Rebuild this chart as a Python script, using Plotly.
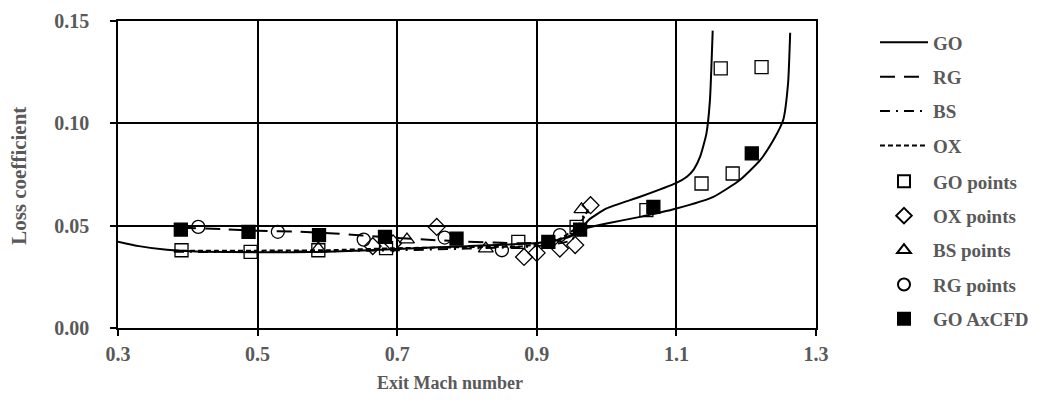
import plotly.graph_objects as go

# Model curves (exit Mach number vs. loss coefficient)
go_x = [0.30, 0.33, 0.37, 0.42, 0.50, 0.60, 0.70, 0.80, 0.90, 0.93, 0.95, 0.962, 0.975, 1.00, 1.048,
        1.10, 1.115, 1.125, 1.134, 1.143, 1.148, 1.152]
go_y = [0.0422, 0.0400, 0.0382, 0.0373, 0.0370, 0.0372, 0.0386, 0.0400, 0.0415, 0.0430, 0.0455, 0.0478,
        0.0530, 0.0584, 0.0641, 0.0709, 0.0739, 0.0775, 0.0837, 0.0950, 0.1110, 0.1453]

go2_x = [0.962, 0.9715, 1.00, 1.048, 1.10, 1.153, 1.191, 1.220, 1.239, 1.253, 1.260, 1.263]
go2_y = [0.0478, 0.0489, 0.0511, 0.0543, 0.0584, 0.0641, 0.0723, 0.0820, 0.0918, 0.1016, 0.1196, 0.1443]

rg_x = [0.39, 0.45, 0.50, 0.56, 0.61, 0.65, 0.70, 0.75, 0.80, 0.85, 0.88, 0.92, 0.95, 0.968]
rg_y = [0.0490, 0.0483, 0.0475, 0.0470, 0.0462, 0.0452, 0.0440, 0.0430, 0.0422, 0.0416, 0.0414, 0.0420,
        0.0450, 0.0500]

bs_x = [0.38, 0.50, 0.60, 0.70, 0.80, 0.90, 0.95, 0.968]
bs_y = [0.0372, 0.0372, 0.0375, 0.0380, 0.0388, 0.0400, 0.0430, 0.0560]

ox_x = [0.38, 0.50, 0.60, 0.70, 0.80, 0.88, 0.93, 0.96, 0.975]
ox_y = [0.0378, 0.0378, 0.0380, 0.0390, 0.0395, 0.0400, 0.0430, 0.0500, 0.0590]

# Measured / computed points
go_pts_x = [0.391, 0.490, 0.587, 0.684, 0.8735, 0.957, 1.057, 1.136, 1.1635, 1.1806, 1.222]
go_pts_y = [0.0380, 0.0372, 0.0380, 0.0390, 0.0421, 0.0494, 0.0576, 0.0706, 0.1269, 0.0755, 0.1275]

ox_pts_x = [0.665, 0.694, 0.7566, 0.8817, 0.8998, 0.933, 0.955, 0.977]
ox_pts_y = [0.0400, 0.0413, 0.0494, 0.0347, 0.0367, 0.0388, 0.0405, 0.0600]

bs_pts_x = [0.587, 0.714, 0.827, 0.964]
bs_pts_y = [0.0388, 0.0432, 0.0388, 0.0580]

rg_pts_x = [0.415, 0.529, 0.652, 0.768, 0.850, 0.933]
rg_pts_y = [0.0494, 0.0470, 0.0432, 0.0442, 0.0380, 0.0454]

cfd_x = [0.390, 0.487, 0.588, 0.6825, 0.785, 0.9165, 0.962, 1.067, 1.208]
cfd_y = [0.0481, 0.0470, 0.0454, 0.0445, 0.0437, 0.0421, 0.0481, 0.0592, 0.0853]

x_ticks = [0.3, 0.5, 0.7, 0.9, 1.1, 1.3]
y_ticks = [0.00, 0.05, 0.10, 0.15]

FONT = "Liberation Serif"
GRAY = "#595959"

fig = go.Figure()


def add_line(x, y, name, dash, show=True, group=None):
    fig.add_trace(go.Scatter(
        x=x, y=y, mode="lines", name=name, showlegend=show,
        legendgroup=group or name, legend="legend",
        line=dict(color="black", width=2, dash=dash, shape="spline", smoothing=0.5),
    ))


def add_points(x, y, name, symbol):
    fig.add_trace(go.Scatter(
        x=x, y=y, mode="markers", name=name, legendgroup=name, legend="legend2",
        marker=dict(symbol=symbol, size=13, color="black",
                    line=dict(color="black", width=1.3)),
    ))


add_line(go_x, go_y, "GO", "solid")
add_line(go2_x, go2_y, "GO", "solid", show=False, group="GO")
add_line(rg_x, rg_y, "RG", "15px,9px")
add_line(bs_x, bs_y, "BS", "10px,6px,2px,6px")
add_line(ox_x, ox_y, "OX", "5px,3px")
add_points(go_pts_x, go_pts_y, "GO points", "square-open")
add_points(ox_pts_x, ox_pts_y, "OX points", "diamond-open")
add_points(bs_pts_x, bs_pts_y, "BS points", "triangle-up-open")
add_points(rg_pts_x, rg_pts_y, "RG points", "circle-open")
add_points(cfd_x, cfd_y, "GO AxCFD", "square")

axis_common = dict(
    showline=True, linecolor="black", linewidth=1.5, mirror=True,
    showgrid=True, gridcolor="black", gridwidth=1.5,
    ticks="outside", ticklen=6, tickcolor="black", tickwidth=1.5,
    zeroline=False,
    tickfont=dict(family=FONT, size=20, color=GRAY, weight="bold"),
)

fig.update_xaxes(range=[0.3, 1.3], tickvals=x_ticks,
                 ticktext=[f"{v:.1f}" for v in x_ticks], ticklabelstandoff=1, **axis_common)
fig.update_yaxes(range=[0, 0.15], tickvals=y_ticks,
                 ticktext=[f"{v:.2f}" for v in y_ticks], ticklabelstandoff=17, **axis_common)

fig.add_annotation(text="Exit Mach number", xref="paper", yref="paper",
                   x=(450 - 118) / 698, y=-(383 - 328) / 306.7,
                   xanchor="center", yanchor="middle", showarrow=False,
                   font=dict(family=FONT, size=18, color=GRAY, weight="bold"))
fig.add_annotation(text="Loss coefficient", xref="paper", yref="paper",
                   x=-(118 - 19) / 698, y=(328 - 176) / 306.7, textangle=-90,
                   xanchor="center", yanchor="middle", showarrow=False,
                   font=dict(family=FONT, size=21, color=GRAY, weight="bold"))

legend_common = dict(
    xref="container", yref="container",
    x=875 / 1041, xanchor="left", yanchor="top",
    font=dict(family=FONT, size=19, color=GRAY, weight="bold"),
    tracegroupgap=6.7, itemwidth=48,
    bgcolor="rgba(0,0,0,0)",
)

fig.update_layout(
    width=1041, height=407,
    margin=dict(l=118, r=225, t=21, b=79, autoexpand=False),
    plot_bgcolor="white", paper_bgcolor="white",
    font=dict(family=FONT, color=GRAY),
    legend=dict(y=1 - 23.4 / 407, **legend_common),
    legend2=dict(y=1 - 162.4 / 407, itemsizing="constant", **legend_common),
)

fig.write_html("out.html")
